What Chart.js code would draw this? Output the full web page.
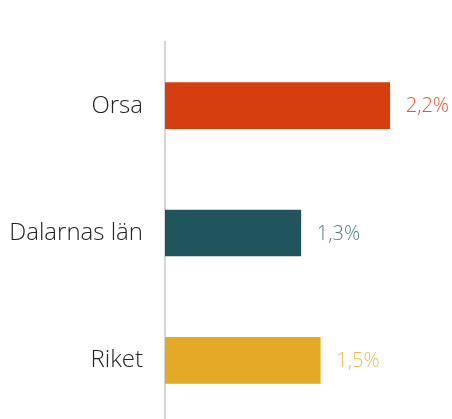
<!DOCTYPE html>
<html>
<head>
<meta charset="utf-8">
<script src="https://cdn.jsdelivr.net/npm/chart.js@4"></script>
<style>
  html, body { margin: 0; padding: 0; background: #fff; overflow: hidden; }
  .frame { width: 452px; height: 419px; overflow: hidden; }
  .chart-container { position: relative; width: 452px; height: 424px; }
</style>
</head>
<body>
<div class="frame">
  <div class="chart-container">
    <canvas id="barChart"></canvas>
  </div>
</div>
<script>
  const categories = ["Orsa", "Dalarnas län", "Riket"];
  const values = [2.2, 1.33, 1.52];
  const barColors = ["#d63e10", "#20555e", "#e3a927"];
  const labelColors = ["#e8552a", "#4e7f86", "#f0bb52"];

  const FONT = "'Open Sans', 'Segoe UI', sans-serif";

  // draws the "2,2%" style labels after each bar
  const valueLabels = {
    id: "valueLabels",
    afterDatasetsDraw(chart) {
      const ctx = chart.ctx;
      const meta = chart.getDatasetMeta(0);
      ctx.save();
      ctx.font = "300 20px " + FONT;
      ctx.textBaseline = "middle";
      ctx.textAlign = "left";
      meta.data.forEach((bar, i) => {
        const txt = values[i].toFixed(1).replace(".", ",") + "%";
        ctx.fillStyle = labelColors[i];
        ctx.fillText(txt, bar.x + 16, bar.y + 1);
      });
      ctx.restore();
    }
  };

  function initChart() {
    const ctx = document.getElementById("barChart").getContext("2d");
    new Chart(ctx, {
      type: "bar",
      data: {
        labels: categories,
        datasets: [{
          data: values,
          backgroundColor: barColors,
          barThickness: 46,
          borderWidth: 0
        }]
      },
      options: {
        indexAxis: "y",
        responsive: true,
        maintainAspectRatio: false,
        animation: false,
        layout: { padding: { top: 42, right: 1, bottom: 0, left: 0 } },
        plugins: {
          legend: { display: false },
          tooltip: { enabled: false }
        },
        scales: {
          x: {
            display: false,
            min: 0,
            max: 2.8
          },
          y: {
            afterFit: (scale) => {
              // fixed axis width, and drop the vertical padding the tick padding adds
              scale.width = 165;
              scale.paddingTop = 0;
              scale.paddingBottom = 0;
            },
            grid: { display: false, drawTicks: false },
            border: { display: true, color: "#d6d6d6", width: 2 },
            ticks: {
              color: "#222",
              padding: 22,
              font: { family: FONT, size: 24, weight: "300" }
            }
          }
        }
      },
      plugins: [valueLabels]
    });
  }

  if (document.readyState === "loading") {
    document.addEventListener("DOMContentLoaded", initChart);
  } else {
    initChart();
  }
</script>
</body>
</html>
